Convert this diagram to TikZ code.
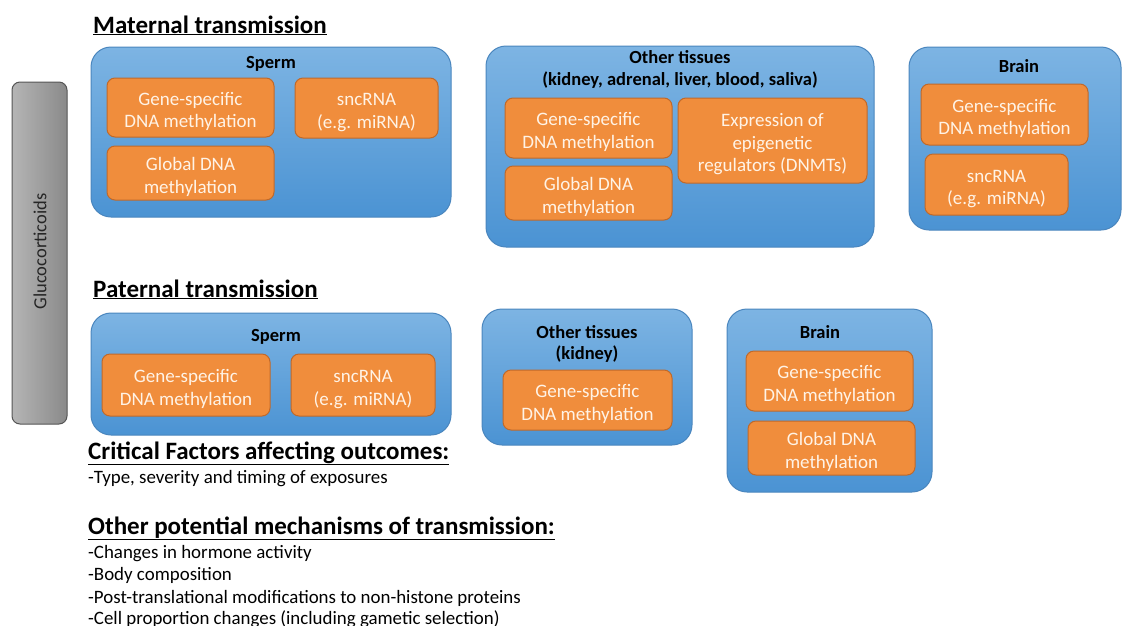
\documentclass[tikz,border=0pt]{standalone}
\usepackage{fontspec}
\setmainfont{Carlito}
\definecolor{bluetop}{HTML}{7DB4E3}
\definecolor{bluebot}{HTML}{4B93D3}
\definecolor{blueedge}{HTML}{4A86BE}
\definecolor{orangefill}{HTML}{F08D3C}
\definecolor{orangeedge}{HTML}{C0692A}
\definecolor{otext}{HTML}{FFF3E6}
\definecolor{grayleft}{HTML}{B5B5B5}
\definecolor{grayright}{HTML}{8A8A8A}
\definecolor{grayedge}{HTML}{555555}
\newcommand{\ostrut}{\rule{0pt}{21pt}}
\tikzset{
  bluebox/.style={draw=blueedge, line width=1pt, rounded corners=20pt, top color=bluetop, bottom color=bluebot, inner sep=0pt},
  orangebox/.style={draw=orangeedge, line width=1pt, fill=orangefill, rounded corners=8pt, text=otext, font=\fontsize{19}{22.5}\selectfont, align=center, inner sep=0pt},
  boxtitle/.style={font=\fontsize{18.5}{21.5}\selectfont\bfseries, align=center, inner sep=0pt},
  heading/.style={font=\fontsize{25}{28}\selectfont\bfseries, anchor=base west, inner sep=0pt},
  listtext/.style={font=\fontsize{18.9}{22}\selectfont, anchor=base west, inner sep=0pt},
  graybar/.style={draw=grayedge, line width=1pt, rounded corners=8pt, left color=grayleft, right color=grayright, inner sep=0pt},
}
\begin{document}
\begin{tikzpicture}[x=1pt,y=-1pt]
\useasboundingbox (0,0) rectangle (1122,625);
\fill[white] (0,0) rectangle (1122,625);

% glucocorticoids bar
\node[graybar, minimum width=55pt, minimum height=342pt] (gluc) at (39.5,253) {};
\node[rotate=90, font=\fontsize{18.5}{21}\selectfont, text=black!85] (glucl) at (40,251.5) {Glucocorticoids};

% headings
\node[heading] (hmat) at (93,33) {\underline{Maternal transmission}};
\node[heading] (hpat) at (93,297) {\underline{Paternal transmission}};
\node[heading] (hcrit) at (88,459) {\underline{Critical Factors affecting outcomes:}};
\node[heading] (hother) at (88,534) {\underline{Other potential mechanisms of transmission:}};

% maternal blue boxes
\node[bluebox, minimum width=360pt, minimum height=170pt] (msperm) at (271,132) {};
\node[bluebox, minimum width=388pt, minimum height=201pt] (mother) at (680,146.5) {};
\node[bluebox, minimum width=212pt, minimum height=183pt] (mbrain) at (1015,138.5) {};

\node[boxtitle] (tmsperm) at (271,64) {Sperm};
\node[boxtitle] (tmother) at (680,69.5) {Other tissues\\(kidney, adrenal, liver, blood, saliva)};
\node[boxtitle] (tmbrain) at (1019,66.5) {Brain};

\node[orangebox, minimum width=167pt, minimum height=59pt] (msgene) at (190.5,107.5) {\ostrut Gene-specific\\DNA methylation};
\node[orangebox, minimum width=143pt, minimum height=60pt] (mssnc) at (366.5,108) {\ostrut sncRNA\\(e.g. miRNA)};
\node[orangebox, minimum width=167pt, minimum height=54pt] (msglob) at (190.5,173) {\ostrut Global DNA\\methylation};

\node[orangebox, minimum width=167pt, minimum height=60pt] (mogene) at (588.5,128) {\ostrut Gene-specific\\DNA methylation};
\node[orangebox, minimum width=189pt, minimum height=85pt] (moexpr) at (772.5,140.5) {\ostrut Expression of\\epigenetic\\regulators (DNMTs)};
\node[orangebox, minimum width=167pt, minimum height=54pt] (moglob) at (588.5,193) {\ostrut Global DNA\\methylation};

\node[orangebox, minimum width=167pt, minimum height=61pt] (mbgene) at (1004.5,114.5) {\ostrut Gene-specific\\DNA methylation};
\node[orangebox, minimum width=143pt, minimum height=61pt] (mbsnc) at (996.5,184.5) {\ostrut sncRNA\\(e.g. miRNA)};

% paternal blue boxes
\node[bluebox, minimum width=360pt, minimum height=122pt] (psperm) at (271,374) {};
\node[bluebox, minimum width=210pt, minimum height=136pt] (pother) at (587,377) {};
\node[bluebox, minimum width=205pt, minimum height=183pt] (pbrain) at (829.5,400.5) {};

\node[boxtitle] (tpsperm) at (276,337) {Sperm};
\node[boxtitle] (tpother) at (587,344) {Other tissues\\(kidney)};
\node[boxtitle] (tpbrain) at (820,332) {Brain};

\node[orangebox, minimum width=168pt, minimum height=62pt] (psgene) at (186,385) {\ostrut Gene-specific\\DNA methylation};
\node[orangebox, minimum width=144pt, minimum height=62pt] (pssnc) at (363,385) {\ostrut sncRNA\\(e.g. miRNA)};

\node[orangebox, minimum width=169pt, minimum height=60pt] (pogene) at (587.5,400) {\ostrut Gene-specific\\DNA methylation};

\node[orangebox, minimum width=167pt, minimum height=60pt] (pbgene) at (829.5,381) {\ostrut Gene-specific\\DNA methylation};
\node[orangebox, minimum width=167pt, minimum height=54pt] (pbglob) at (831.5,448) {\ostrut Global DNA\\methylation};

% lists
\node[listtext] (l1) at (88,483) {-Type, severity and timing of exposures};
\node[listtext] (l2) at (88,558) {-Changes in hormone activity};
\node[listtext] (l3) at (88,580) {-Body composition};
\node[listtext] (l4) at (88,603) {-Post-translational modifications to non-histone proteins};
\node[listtext] (l5) at (88,624) {-Cell proportion changes (including gametic selection)};
\end{tikzpicture}
\end{document}
